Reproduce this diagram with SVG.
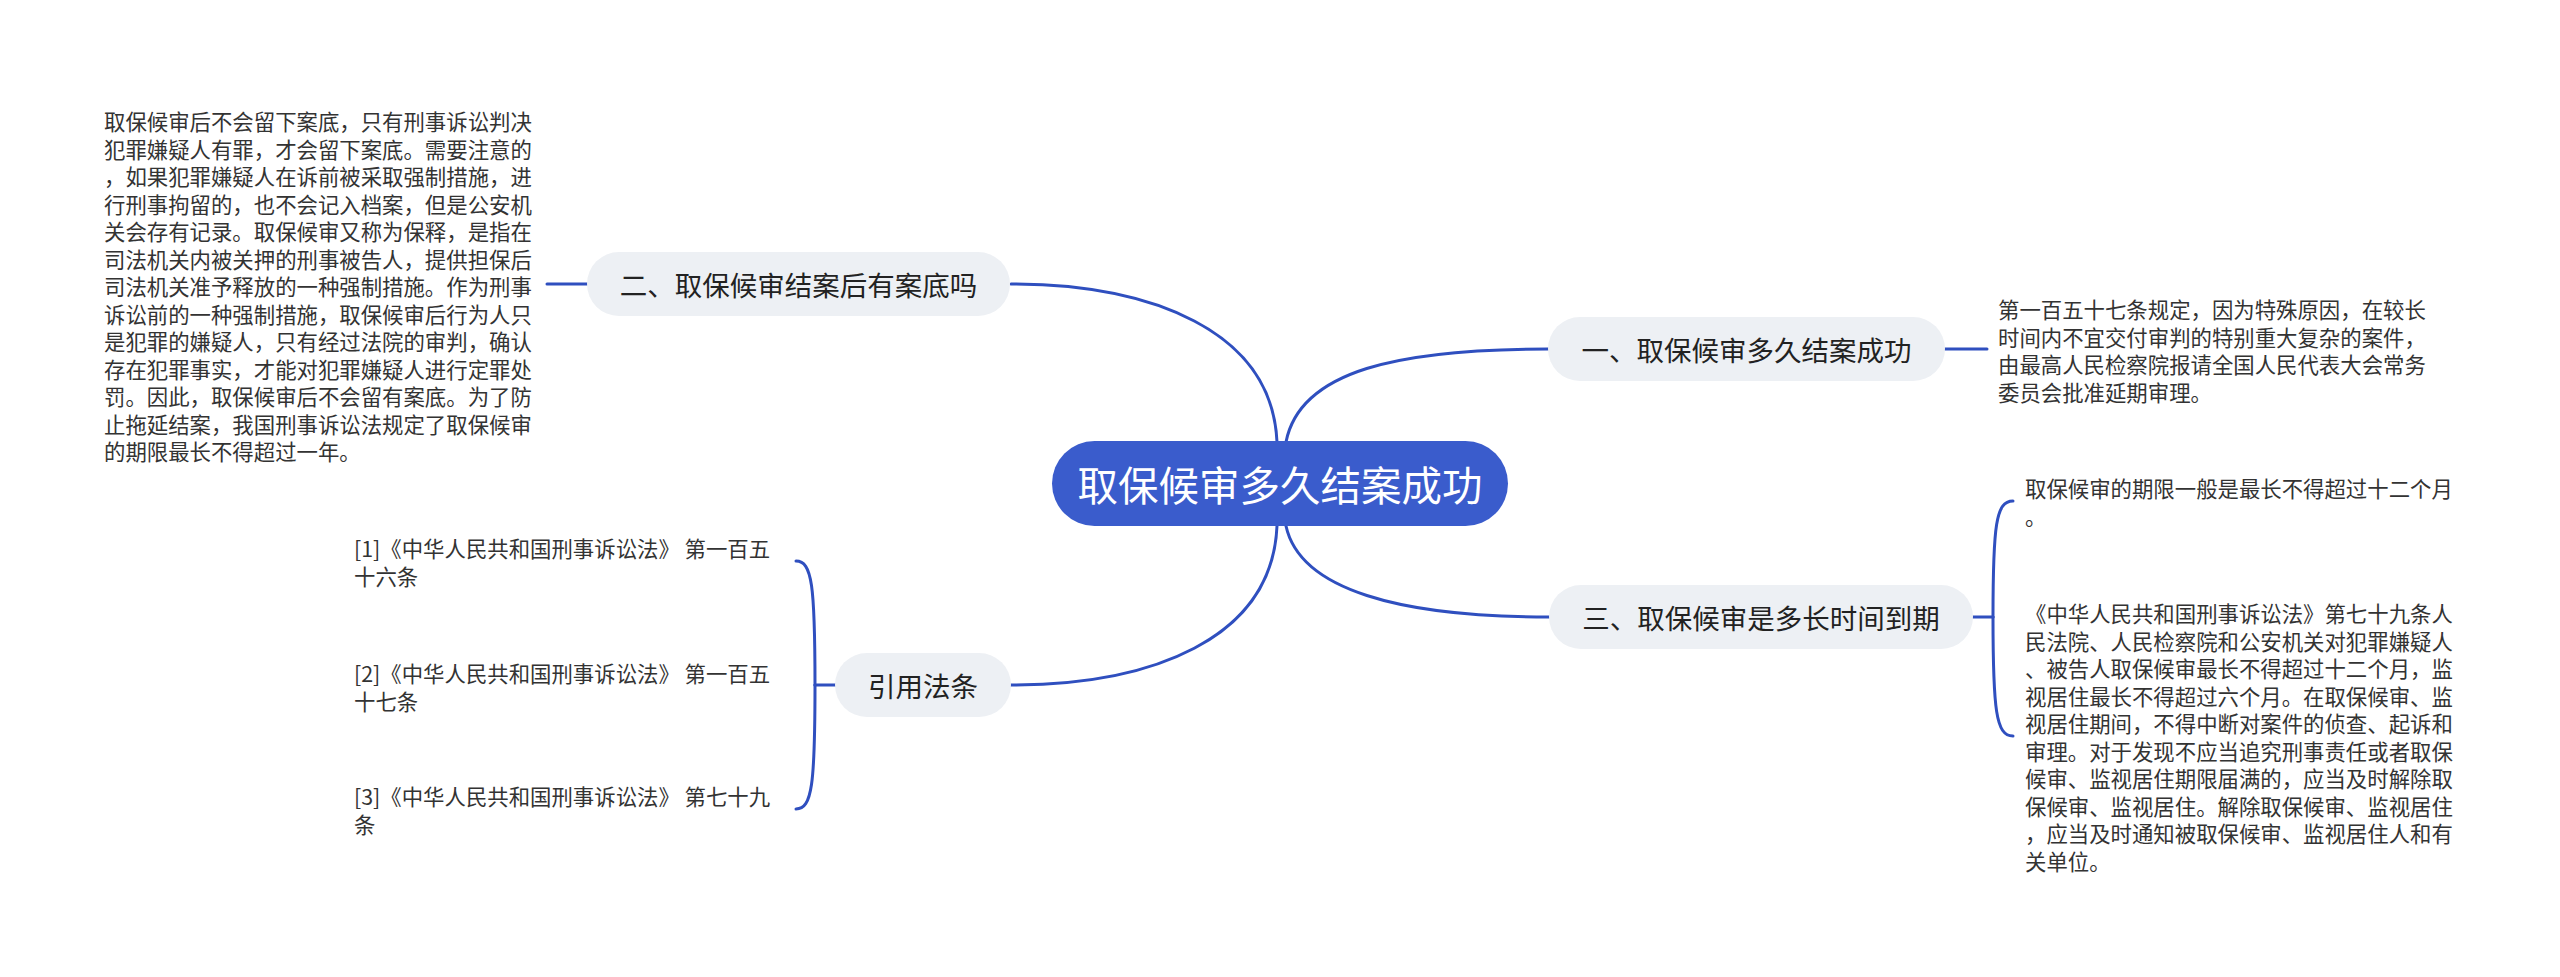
<svg xmlns="http://www.w3.org/2000/svg" width="2560" height="977" viewBox="0 0 2560 977">
<style>
.bg{fill:#ffffff}
.pill{fill:#edf0f4}
.root{fill:#3a5ccc}
.lbl{font-family:"Noto Sans CJK SC","Noto Sans",sans-serif;font-size:27.5px;fill:#222222;text-anchor:middle;dominant-baseline:central}
.rootlbl{font-family:"Noto Sans CJK SC","Noto Sans",sans-serif;font-size:40.5px;fill:#ffffff;text-anchor:middle;dominant-baseline:central}
.body{font-family:"Noto Sans CJK SC","Noto Sans",sans-serif;font-size:21.4px;fill:#333333;dominant-baseline:central}
.conn{fill:none;stroke:#2f4fbf;stroke-width:3;stroke-linecap:round}
</style>
<rect class="bg" x="0" y="0" width="2560" height="977"/>
<g id="connectors">
<path class="conn" d="M1277,442 C1272,330 1150,284 1011,284"/>
<path class="conn" d="M1286,442 C1300,370 1400,349 1548,349"/>
<path class="conn" d="M1286,526 C1300,590 1400,617 1549,617"/>
<path class="conn" d="M1277,526 C1272,640 1150,685 1011,685"/>
<path class="conn" d="M547,284 L587,284"/>
<path class="conn" d="M1945,349 L1987,349"/>
<path class="conn" d="M1973,617 L1993,617"/>
<path class="conn" d="M1993,617 C1993,525 1996,501 2013,501"/>
<path class="conn" d="M1993,617 C1993,710 1996,736 2013,736"/>
<path class="conn" d="M836,685 L815,685"/>
<path class="conn" d="M815,685 C815,585 812,561 796,561"/>
<path class="conn" d="M815,685 C815,785 812,809 796,809"/>
</g>
<g id="root">
<rect class="root" x="1052" y="441" width="456" height="85" rx="42.5"/>
<text class="rootlbl" x="1280" y="483.5">取保候审多久结案成功</text>
</g>
<g id="node-2">
<rect class="pill" x="587" y="252" width="423" height="64" rx="32"/>
<text class="lbl" x="798.5" y="284">二、取保候审结案后有案底吗</text>
</g>
<g id="node-2-text">
<text class="body" x="104">
<tspan x="104" y="120">取保候审后不会留下案底，只有刑事诉讼判决</tspan>
<tspan x="104" y="147.5">犯罪嫌疑人有罪，才会留下案底。需要注意的</tspan>
<tspan x="104" y="175">，如果犯罪嫌疑人在诉前被采取强制措施，进</tspan>
<tspan x="104" y="202.5">行刑事拘留的，也不会记入档案，但是公安机</tspan>
<tspan x="104" y="230">关会存有记录。取保候审又称为保释，是指在</tspan>
<tspan x="104" y="257.5">司法机关内被关押的刑事被告人，提供担保后</tspan>
<tspan x="104" y="285">司法机关准予释放的一种强制措施。作为刑事</tspan>
<tspan x="104" y="312.5">诉讼前的一种强制措施，取保候审后行为人只</tspan>
<tspan x="104" y="340">是犯罪的嫌疑人，只有经过法院的审判，确认</tspan>
<tspan x="104" y="367.5">存在犯罪事实，才能对犯罪嫌疑人进行定罪处</tspan>
<tspan x="104" y="395">罚。因此，取保候审后不会留有案底。为了防</tspan>
<tspan x="104" y="422.5">止拖延结案，我国刑事诉讼法规定了取保候审</tspan>
<tspan x="104" y="450">的期限最长不得超过一年。</tspan>
</text>
</g>
<g id="node-1">
<rect class="pill" x="1548" y="317" width="397" height="64" rx="32"/>
<text class="lbl" x="1746.5" y="349">一、取保候审多久结案成功</text>
</g>
<g id="node-1-text">
<text class="body">
<tspan x="1998" y="308">第一百五十七条规定，因为特殊原因，在较长</tspan>
<tspan x="1998" y="335.5">时间内不宜交付审判的特别重大复杂的案件，</tspan>
<tspan x="1998" y="363">由最高人民检察院报请全国人民代表大会常务</tspan>
<tspan x="1998" y="390.5">委员会批准延期审理。</tspan>
</text>
</g>
<g id="node-3">
<rect class="pill" x="1549" y="585" width="424" height="64" rx="32"/>
<text class="lbl" x="1761" y="617">三、取保候审是多长时间到期</text>
</g>
<g id="node-3-text-1">
<text class="body">
<tspan x="2025" y="487">取保候审的期限一般是最长不得超过十二个月</tspan>
<tspan x="2025" y="514.5">。</tspan>
</text>
</g>
<g id="node-3-text-2">
<text class="body">
<tspan x="2025" y="612">《中华人民共和国刑事诉讼法》第七十九条人</tspan>
<tspan x="2025" y="639.5">民法院、人民检察院和公安机关对犯罪嫌疑人</tspan>
<tspan x="2025" y="667">、被告人取保候审最长不得超过十二个月，监</tspan>
<tspan x="2025" y="694.5">视居住最长不得超过六个月。在取保候审、监</tspan>
<tspan x="2025" y="722">视居住期间，不得中断对案件的侦查、起诉和</tspan>
<tspan x="2025" y="749.5">审理。对于发现不应当追究刑事责任或者取保</tspan>
<tspan x="2025" y="777">候审、监视居住期限届满的，应当及时解除取</tspan>
<tspan x="2025" y="804.5">保候审、监视居住。解除取保候审、监视居住</tspan>
<tspan x="2025" y="832">，应当及时通知被取保候审、监视居住人和有</tspan>
<tspan x="2025" y="859.5">关单位。</tspan>
</text>
</g>
<g id="node-4">
<rect class="pill" x="835" y="653" width="176" height="64" rx="32"/>
<text class="lbl" x="923" y="685">引用法条</text>
</g>
<g id="node-4-ref-1">
<text class="body">
<tspan x="354" y="547">[1]《中华人民共和国刑事诉讼法》 第一百五</tspan>
<tspan x="354" y="574.5">十六条</tspan>
</text>
</g>
<g id="node-4-ref-2">
<text class="body">
<tspan x="354" y="672">[2]《中华人民共和国刑事诉讼法》 第一百五</tspan>
<tspan x="354" y="699.5">十七条</tspan>
</text>
</g>
<g id="node-4-ref-3">
<text class="body">
<tspan x="354" y="795">[3]《中华人民共和国刑事诉讼法》 第七十九</tspan>
<tspan x="354" y="822.5">条</tspan>
</text>
</g>
</svg>
